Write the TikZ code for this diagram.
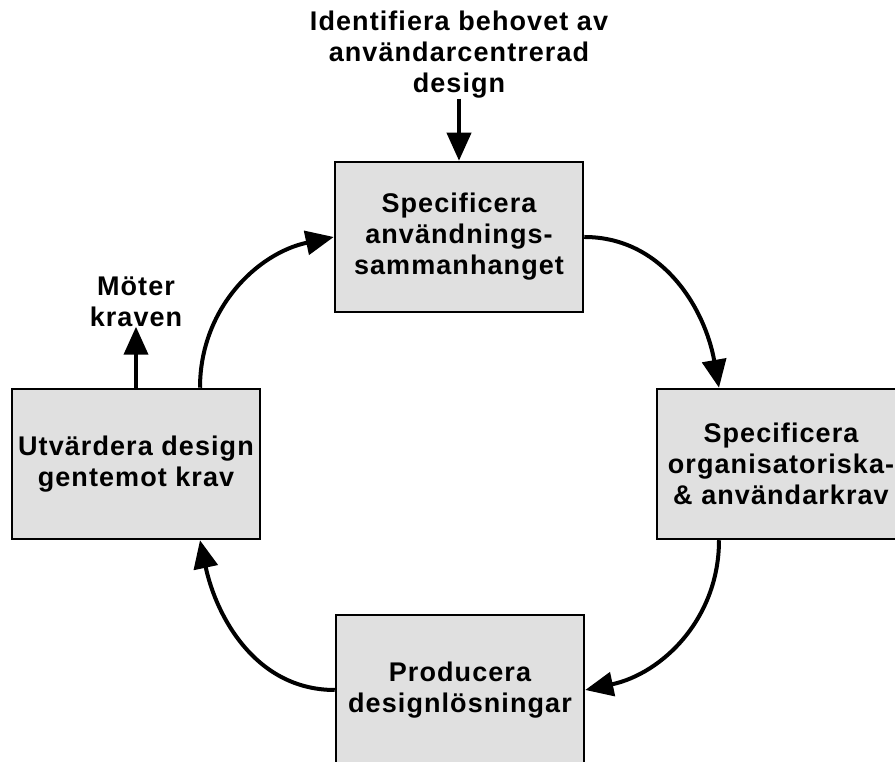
\documentclass[tikz,border=0pt]{standalone}
\usepackage{fontspec}
\setmainfont[LetterSpace=4]{Liberation Sans}
\usetikzlibrary{arrows.meta}
\usetikzlibrary{positioning}

\begin{document}
\begin{tikzpicture}[
        x=1pt,y=1pt,
        stage node/.style={rectangle,draw=black,line width=2.5pt,fill=black!12,minimum width=248pt,minimum height=150pt,align=center,font=\fontsize{27}{31}\selectfont\bfseries},
        note node/.style={align=center,inner sep=0pt,font=\fontsize{27}{31}\selectfont\bfseries},
        cycle arrow/.style={line width=4pt,-{Triangle[length=28pt,width=24pt]}},
    ]
    
    \clip (0,0) rectangle (895,762);
    \node[stage node] (context) at (459,525) {Specificera\\användnings-\\sammanhanget};
    \node[stage node] (reqs) at (781,298) {Specificera\\organisatoriska-\\\& användarkrav};
    \node[stage node] (produce) at (460,72) {Producera\\designlösningar};
    \node[stage node] (evaluate) at (136,298) {Utvärdera design\\gentemot krav};
    \node[note node,above=62pt of context] (need) {Identifiera behovet av\\användarcentrerad\\design};
    \node[note node,above=61pt of evaluate] (meets) {Möter\\kraven};
    
    \draw[cycle arrow] (need.south) -- (context.north);
    \draw[cycle arrow] (evaluate.north) -- (meets.south);
    \draw[cycle arrow] ([xshift=64pt]evaluate.north) to[out=90,in=192] (context.west);
    \draw[cycle arrow] (context.east) to[out=0,in=100] ([xshift=-62pt]reqs.north);
    \draw[cycle arrow] ([xshift=-62pt]reqs.south) to[out=-90,in=12] (produce.east);
    \draw[cycle arrow] (produce.west) to[out=180,in=-78] ([xshift=64pt]evaluate.south);
    \end{tikzpicture}
\end{document}
